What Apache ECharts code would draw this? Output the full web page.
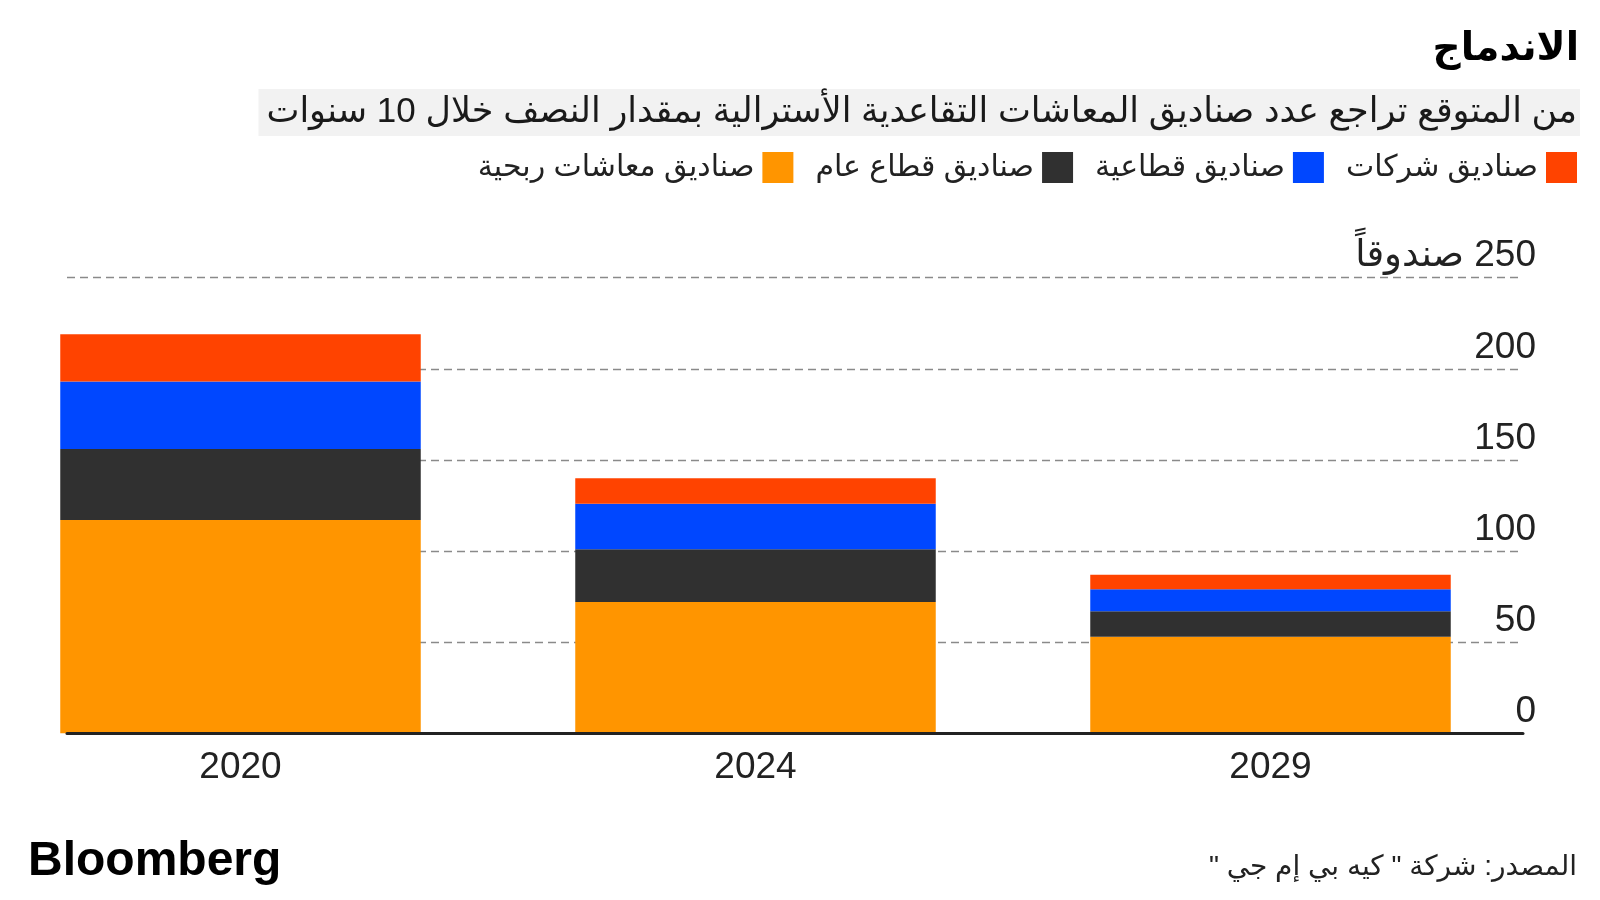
<!DOCTYPE html>
<html>
<head>
<meta charset="utf-8">
<script src="https://cdn.jsdelivr.net/npm/echarts@6/dist/echarts.min.js"></script>
<style>
html,body{margin:0;padding:0;background:#fff;}
#chart{width:1600px;height:900px;}
</style>
</head>
<body>
<div id="chart" dir="rtl"></div>
<script>
// ---- data ----
const years = ['2020', '2024', '2029'];
const seriesNames = ['صناديق معاشات ربحية', 'صناديق قطاع عام', 'صناديق قطاعية', 'صناديق شركات'];
const retailFunds = [117, 72, 53];
const publicSectorFunds = [39, 29, 14];
const industryFunds = [37, 25, 12];
const corporateFunds = [26, 14, 8];
const yMin = 0, yMax = 250, yStep = 50;
const yTopLabelUnit = 'صندوقاً';
const titleText = 'الاندماج';
const subtitleText = 'من المتوقع تراجع عدد صناديق المعاشات التقاعدية الأسترالية بمقدار النصف خلال 10 سنوات';
const sourceText = 'المصدر: شركة " كيه بي إم جي "';
const logoText = 'Bloomberg';

const colors = ['#FF9500', '#303030', '#0047FF', '#FF4300'];
const values = [retailFunds, publicSectorFunds, industryFunds, corporateFunds];
const AR = '"Liberation Sans", "DejaVu Sans", sans-serif';

const chart = echarts.init(document.getElementById('chart'), null, {renderer: 'canvas'});
const option = {
  backgroundColor: '#ffffff',
  animation: false,
  title: [
    {
      text: titleText, right: 21, top: 30, padding: 0,
      textStyle: {fontFamily: AR, fontSize: 39, fontWeight: 'bold', color: '#000'}
    },
    {
      text: subtitleText, right: 20, top: 89, padding: [5, 3, 5, 8],
      backgroundColor: '#f2f2f2',
      textStyle: {fontFamily: AR, fontSize: 35, fontWeight: 'normal', color: '#1a1a1a', lineHeight: 37}
    }
  ],
  legend: {
    data: seriesNames,
    right: 18, top: 147,
    orient: 'horizontal',
    align: 'right',
    icon: 'rect',
    itemWidth: 31, itemHeight: 31, itemGap: 22,
    textStyle: {fontFamily: AR, fontSize: 30, color: '#222', padding: [0, 3, 0, 0]}
  },
  grid: [
    {left: 67, right: 77, top: 277.7, bottom: 166.7, outerBoundsMode: 'none'},
    {left: -17, right: 72, top: 277.7, bottom: 166.7, outerBoundsMode: 'none'}
  ],
  xAxis: [
    {
      gridIndex: 0, type: 'category', data: years, z: 5,
      axisLine: {show: true, lineStyle: {color: '#222', width: 3}},
      axisTick: {show: false}, axisLabel: {show: false}, splitLine: {show: false}
    },
    {
      gridIndex: 1, type: 'category', data: years,
      axisLine: {show: false}, axisTick: {show: false},
      axisLabel: {fontFamily: AR, fontSize: 37, color: '#222', margin: 16},
      splitLine: {show: false}
    }
  ],
  yAxis: [
    {
      gridIndex: 0, type: 'value', position: 'right',
      min: yMin, max: yMax, interval: yStep,
      axisLine: {show: false}, axisTick: {show: false},
      axisLabel: {
        fontFamily: AR, fontSize: 37, color: '#222', margin: 13,
        align: 'right', verticalAlign: 'bottom', padding: [0, 0, 3, 0],
        formatter: v => v === yMax ? (v + ' ' + yTopLabelUnit) : String(v)
      },
      splitLine: {show: true, lineStyle: {color: '#8a8a8a', width: 1.4, type: [8, 5]}}
    },
    {
      gridIndex: 1, type: 'value', min: yMin, max: yMax, interval: yStep, show: false,
      splitLine: {show: false}
    }
  ],
  series: seriesNames.map((name, i) => ({
    name: name, type: 'bar', stack: 'total',
    xAxisIndex: 1, yAxisIndex: 1,
    barCategoryGap: '30%',
    itemStyle: {color: colors[i]},
    data: values[i]
  })),
  graphic: [
    {
      type: 'text', left: 28, top: 838,
      style: {text: logoText, font: 'bold 48px "Liberation Sans", Arial, sans-serif', fill: '#000'}
    },
    {
      type: 'text', right: 23, top: 853,
      style: {text: sourceText, font: '28px "Liberation Sans", "DejaVu Sans", sans-serif', fill: '#222'}
    }
  ]
};
chart.setOption(option);
</script>
</body>
</html>
